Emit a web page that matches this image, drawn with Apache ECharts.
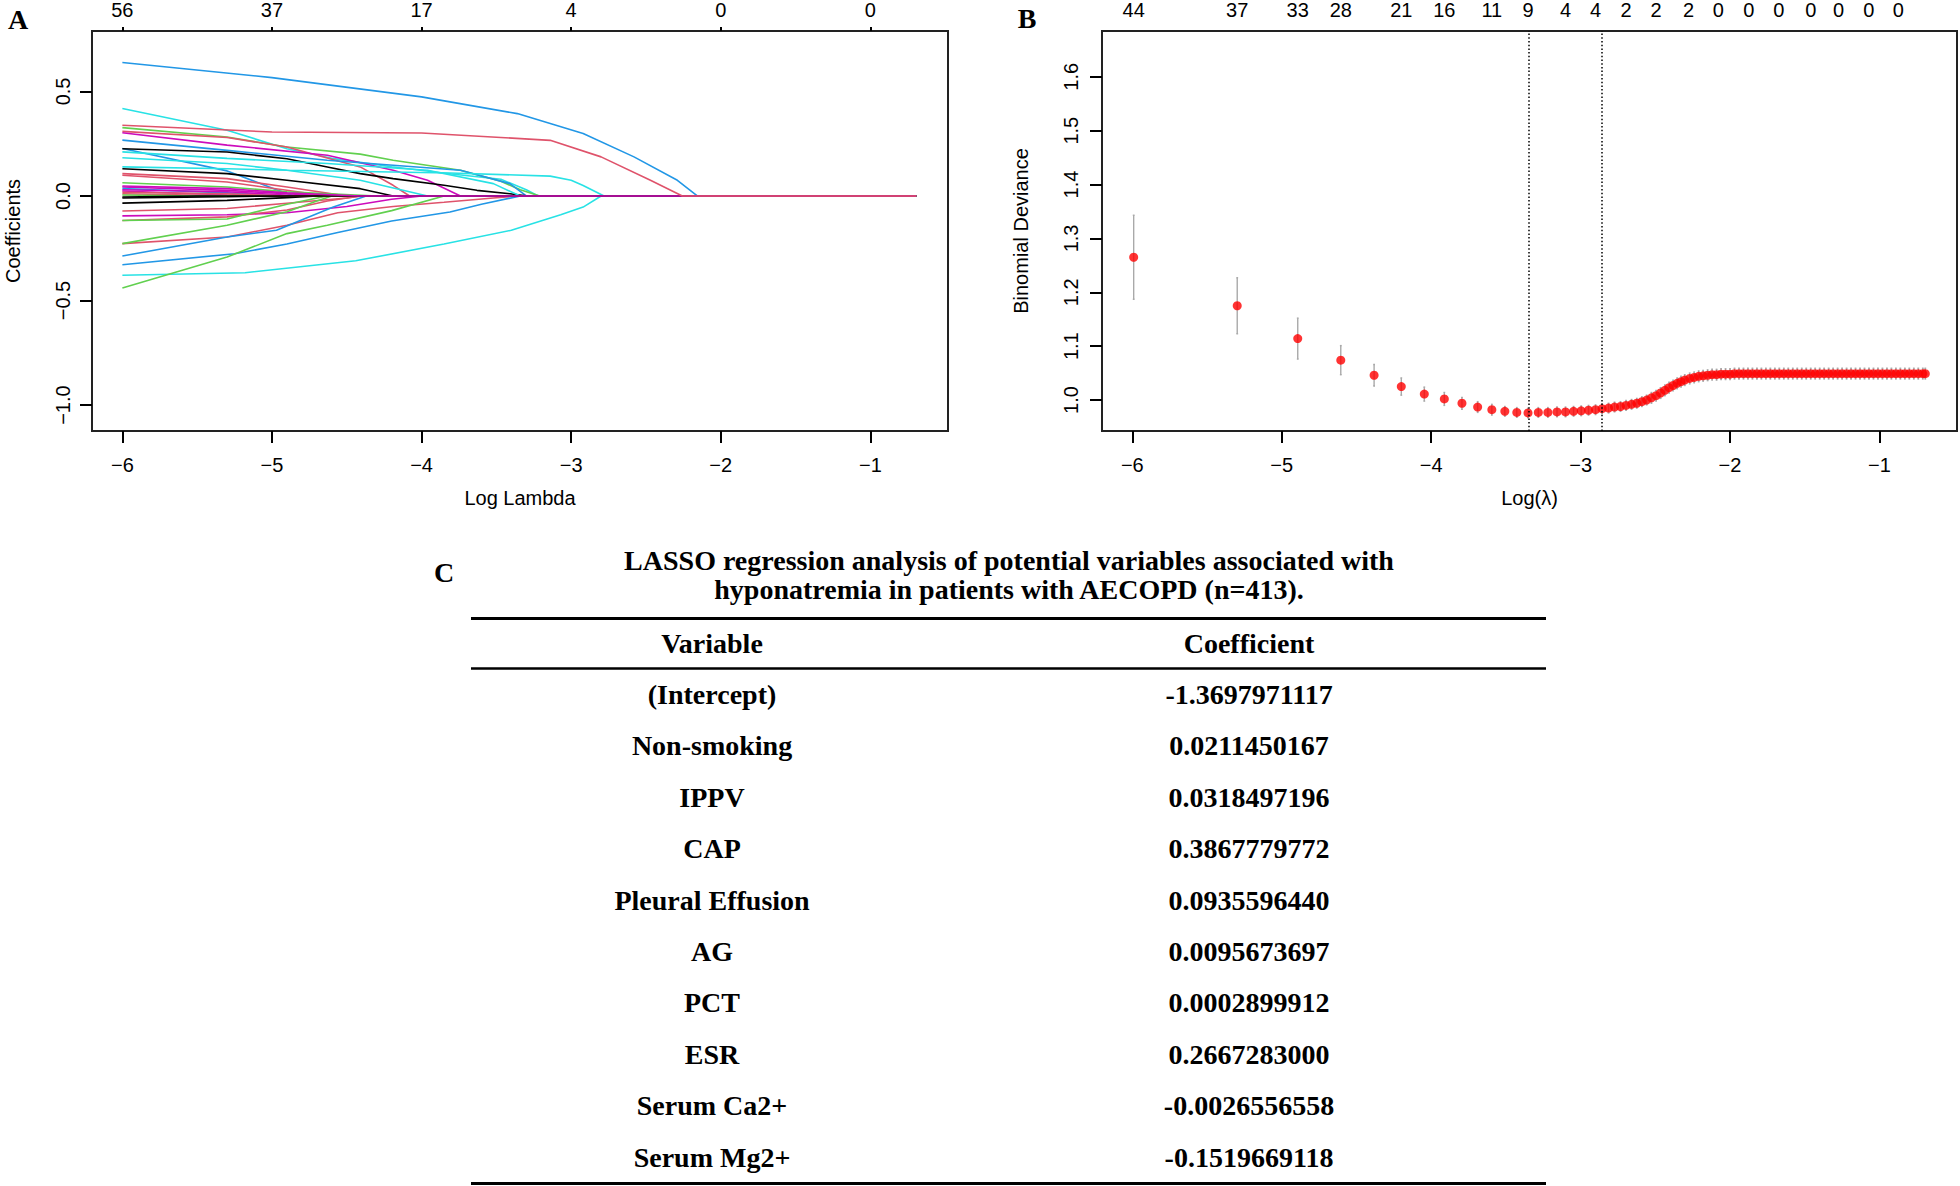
<!DOCTYPE html>
<html><head><meta charset="utf-8">
<script src="https://cdn.jsdelivr.net/npm/echarts@6.0.0/dist/echarts.min.js"></script>
<style>html,body{margin:0;padding:0;background:#fff;} #chart{width:1960px;height:1186px;}</style>
</head><body><div id="chart"></div>
<script>
// ---------------- Panel A: coefficient paths ----------------
const xTicks = [-6, -5, -4, -3, -2, -1];
const topTicksA = [-6, -5, -4, -3, -2, -1];
const topLabelsA = ['56', '37', '17', '4', '0', '0'];
const yTicksA = [-1, -0.5, 0, 0.5];
const lambdaEnd = -0.693;
const K = '#000000', R = '#DF536B', G = '#61D04F', B = '#2297E6', C = '#28E2E5', M = '#CD0BBC';
const pathColors = [B, C, G, R, M, B, B, K, C, C, C, K, R, R, G, M, B, M, R, M, G, K, K, R, M, R, G, R, G, B, B, C, G, R, K, M, R];
const coefPaths = [
  [[-6,0.638],[-5,0.566],[-4,0.474],[-3.81,0.45],[-3.36,0.394],[-2.92,0.299],[-2.58,0.187],[-2.29,0.075],[-2.157,0]],
  [[-6,0.418],[-5.3,0.314],[-4.9,0.226],[-4.6,0.18],[-4.2,0.14],[-3.8,0.105],[-3.47,0.08],[-3.3,0.03],[-3.22,0]],
  [[-6,0.327],[-5.3,0.282],[-4.9,0.234],[-4.41,0.2],[-4.19,0.171],[-3.74,0.123],[-3.47,0.07],[-3.34,0.03],[-3.21,0]],
  [[-6,0.309],[-5.3,0.28],[-4.9,0.234],[-4.41,0.139],[-4.19,0.051],[-4.08,0]],
  [[-6,0.302],[-5.3,0.243],[-4.63,0.195],[-4.19,0.123],[-3.96,0.075],[-3.74,0]],
  [[-6,0.267],[-5.3,0.218],[-4.63,0.171],[-4.19,0.147],[-3.74,0.123],[-3.41,0.059],[-3.3,0]],
  [[-6,0.227],[-5.3,0.12],[-4.97,0.03],[-4.85,0]],
  [[-6,0.226],[-5.3,0.21],[-4.9,0.178],[-4.63,0.139],[-4.41,0.107],[-4.19,0.083],[-3.85,0.051],[-3.63,0.027],[-3.41,0.011],[-3.29,0]],
  [[-6,0.211],[-5.3,0.18],[-4.63,0.155],[-3.96,0.123],[-3.52,0.059],[-3.34,0]],
  [[-6,0.183],[-5.3,0.155],[-4.9,0.123],[-4.41,0.075],[-3.96,0]],
  [[-6,0.139],[-5.3,0.13],[-4.9,0.123],[-4.2,0.115],[-3.81,0.11],[-3.14,0.095],[-3.0,0.075],[-2.92,0.05],[-2.78,0]],
  [[-6,0.13],[-5.3,0.107],[-4.9,0.075],[-4.41,0.035],[-4.19,0]],
  [[-6,0.107],[-5.3,0.083],[-4.9,0.043],[-4.5,0]],
  [[-6,0.099],[-5.3,0.067],[-4.9,0.027],[-4.63,0]],
  [[-6,0.063],[-5.3,0.043],[-4.9,0.02],[-4.3,0]],
  [[-6,0.043],[-5.3,0.027],[-4.63,0]],
  [[-6,0.035],[-5.3,0.015],[-4.9,0]],
  [[-6,0.024],[-5.3,0.005],[-5.0,0]],
  [[-6,0.011],[-5.2,0]],
  [[-6,0.03],[-5.3,0.02],[-4.8,0]],
  [[-6,0.005],[-5.5,0]],
  [[-6,-0.01],[-5.3,-0.004],[-5.0,0]],
  [[-6,-0.034],[-5.3,-0.021],[-4.9,-0.008],[-4.7,0]],
  [[-6,-0.072],[-5.3,-0.06],[-4.9,-0.035],[-4.5,-0.01],[-4.4,0]],
  [[-6,-0.095],[-5.3,-0.09],[-4.9,-0.08],[-4.5,-0.05],[-4.2,-0.016],[-4.0,0]],
  [[-6,-0.117],[-5.3,-0.1],[-4.9,-0.067],[-4.63,-0.024],[-4.41,0]],
  [[-6,-0.117],[-5.3,-0.11],[-4.9,-0.04],[-4.63,0]],
  [[-6,-0.228],[-5.3,-0.196],[-4.9,-0.14],[-4.56,-0.08],[-4.19,-0.05],[-3.85,-0.03],[-3.52,-0.01],[-3.36,0]],
  [[-6,-0.228],[-5.3,-0.14],[-4.9,-0.075],[-4.7,-0.024],[-4.6,0]],
  [[-6,-0.287],[-5.3,-0.196],[-4.97,-0.164],[-4.59,-0.053],[-4.37,0]],
  [[-6,-0.329],[-5.25,-0.276],[-4.9,-0.23],[-4.56,-0.175],[-4.2,-0.12],[-3.81,-0.077],[-3.6,-0.04],[-3.34,0]],
  [[-6,-0.379],[-5.18,-0.367],[-4.44,-0.31],[-3.85,-0.23],[-3.4,-0.164],[-3.07,-0.09],[-2.92,-0.053],[-2.8,0]],
  [[-6,-0.44],[-5.3,-0.292],[-4.9,-0.18],[-4.63,-0.14],[-4.2,-0.07],[-3.85,0]],
  [[-6,0.018],[-5.3,0.01],[-4.9,0]],
  [[-6,-0.005],[-5.5,0]],
  [[-6,0.048],[-5.3,0.035],[-4.9,0.015],[-4.41,0]],
  [[-6,0.338],[-5,0.306],[-4,0.301],[-3.47,0.28],[-3.14,0.266],[-2.8,0.187],[-2.47,0.075],[-2.257,0]]
];

// ---------------- Panel B: cross-validation curve ----------------
const cvLogLambda = [-5.991,-5.298,-4.893,-4.605,-4.382,-4.200,-4.046,-3.912,-3.794,-3.689,-3.594,-3.507,-3.427,-3.352,-3.283,-3.219,-3.158,-3.101,-3.047,-2.996,-2.947,-2.900,-2.856,-2.813,-2.773,-2.733,-2.696,-2.659,-2.624,-2.590,-2.558,-2.526,-2.495,-2.465,-2.436,-2.408,-2.381,-2.354,-2.328,-2.303,
  -2.27,-2.24,-2.21,-2.18,-2.15,-2.12,-2.09,-2.06,-2.03,-2.00,-1.97,-1.94,-1.91,-1.88,-1.85,-1.82,-1.79,-1.76,-1.73,-1.70,-1.67,-1.64,-1.61,-1.58,-1.55,-1.52,-1.49,-1.46,-1.43,-1.40,-1.37,-1.34,-1.31,-1.28,-1.25,-1.22,-1.19,-1.16,-1.13,-1.10,-1.07,-1.04,-1.01,-0.98,-0.95,-0.92,-0.89,-0.86,-0.83,-0.80,-0.77,-0.74,-0.71,-0.693];
const cvDeviance = [1.265,1.175,1.114,1.074,1.046,1.025,1.011,1.002,0.994,0.987,0.982,0.979,0.977,0.976,0.977,0.977,0.978,0.978,0.979,0.980,0.981,0.982,0.984,0.985,0.987,0.988,0.990,0.992,0.994,0.997,1.000,1.004,1.008,1.013,1.018,1.023,1.027,1.031,1.034,1.037,
  1.040,1.042,1.044,1.045,1.046,1.047,1.047,1.048,1.048,1.048,1.049,1.049,1.049,1.049,1.049,1.049,1.049,1.049,1.049,1.049,1.049,1.049,1.049,1.049,1.049,1.049,1.049,1.049,1.049,1.049,1.049,1.049,1.049,1.049,1.049,1.049,1.049,1.049,1.049,1.049,1.049,1.049,1.049,1.049,1.049,1.049,1.049,1.049,1.049,1.049,1.049,1.049,1.049,1.049];
const cvSE = [0.078,0.052,0.038,0.027,0.020,0.016,0.013,0.012,0.011,0.010,0.010,0.009,0.009,0.009,0.009,0.009,0.009,0.009,0.009,0.009,0.009,0.009,0.009,0.009,0.009,0.009,0.009,0.009,0.009,0.009,0.009,0.010,0.010,0.010,0.010,0.010,0.010,0.010,0.010,0.010,
  0.010,0.010,0.010,0.010,0.010,0.010,0.010,0.010,0.010,0.010,0.010,0.010,0.010,0.010,0.010,0.010,0.010,0.010,0.010,0.010,0.010,0.010,0.010,0.010,0.010,0.010,0.010,0.010,0.010,0.010,0.010,0.010,0.010,0.010,0.010,0.010,0.010,0.010,0.010,0.010,0.010,0.010,0.010,0.010,0.010,0.010,0.010,0.010,0.010,0.010,0.010,0.010,0.010,0.010];
const lambdaMinLog = -3.352;
const lambda1seLog = -2.856;
const topPosB = [-5.991,-5.298,-4.893,-4.605,-4.200,-3.912,-3.594,-3.352,-3.101,-2.900,-2.696,-2.495,-2.278,-2.079,-1.874,-1.674,-1.459,-1.273,-1.072,-0.874];
const topLabelsB = ['44','37','33','28','21','16','11','9','4','4','2','2','2','0','0','0','0','0','0','0'];
const yTicksB = [1.0, 1.1, 1.2, 1.3, 1.4, 1.5, 1.6];

// ---------------- Panel C: table ----------------
const tableTitle = ['LASSO regression analysis of potential variables associated with', 'hyponatremia in patients with AECOPD (n=413).'];
const tableHeader = ['Variable', 'Coefficient'];
const tableVariables = ['(Intercept)', 'Non-smoking', 'IPPV', 'CAP', 'Pleural Effusion', 'AG', 'PCT', 'ESR', 'Serum Ca2+', 'Serum Mg2+'];
const tableCoefficients = ['-1.3697971117', '0.0211450167', '0.0318497196', '0.3867779772', '0.0935596440', '0.0095673697', '0.0002899912', '0.2667283000', '-0.0026556558', '-0.1519669118'];

// ---------------- build chart ----------------
const SANS = '"Liberation Sans", Arial, sans-serif';
const SERIF = '"Liberation Serif", "Times New Roman", serif';
const minus = s => s.replace('-', '\u2212');
const axisText = {fontSize: 20, color: '#000', fontFamily: SANS};
function nearestLabel(pos, labels, v) {
  let bi = 0, bd = Infinity;
  pos.forEach((p, i) => { const d = Math.abs(p - v); if (d < bd) { bd = d; bi = i; } });
  return labels[bi];
}
const XMIN = -6.203, XMAX = -0.481;

function bottomX(grid, name) {
  return {
    gridIndex: grid, type: 'value', position: 'bottom', min: XMIN, max: XMAX,
    axisLine: {show: false, onZero: false}, splitLine: {show: false},
    axisTick: {show: true, length: 12, customValues: xTicks, lineStyle: {color: '#000', width: 2}},
    axisLabel: Object.assign({customValues: xTicks, margin: 24, formatter: v => minus(String(Math.round(v)))}, axisText),
    name: name, nameLocation: 'middle', nameGap: 57, nameTextStyle: axisText
  };
}

const series = [];
coefPaths.forEach((p, i) => {
  series.push({
    type: 'line', xAxisIndex: 0, yAxisIndex: 0, data: p.concat([[lambdaEnd, 0]]),
    showSymbol: false, symbol: 'none', silent: true, animation: false,
    lineStyle: {color: pathColors[i], width: 1.6}
  });
});
const errData = cvLogLambda.map((x, i) => [x, cvDeviance[i] - cvSE[i], cvDeviance[i] + cvSE[i]]);
series.push({
  type: 'custom', xAxisIndex: 2, yAxisIndex: 1, data: errData, silent: true, animation: false,
  renderItem: function (params, api) {
    const x = api.value(0), lo = api.value(1), hi = api.value(2);
    const a = api.coord([x, lo]), b = api.coord([x, hi]);
    const cl = api.coord([x - 0.006, hi]), cr = api.coord([x + 0.006, hi]);
    const dl = api.coord([x - 0.006, lo]), dr = api.coord([x + 0.006, lo]);
    const st = {stroke: '#A9A9A9', lineWidth: 1.4};
    return {type: 'group', children: [
      {type: 'line', shape: {x1: a[0], y1: a[1], x2: b[0], y2: b[1]}, style: st},
      {type: 'line', shape: {x1: cl[0], y1: cl[1], x2: cr[0], y2: cr[1]}, style: st},
      {type: 'line', shape: {x1: dl[0], y1: dl[1], x2: dr[0], y2: dr[1]}, style: st}
    ]};
  }
});
series.push({
  type: 'scatter', xAxisIndex: 2, yAxisIndex: 1, silent: true, animation: false,
  data: cvLogLambda.map((x, i) => [x, cvDeviance[i]]),
  symbol: 'circle', symbolSize: 9, itemStyle: {color: '#FF0000'},
  markLine: {
    silent: true, symbol: ['none', 'none'], label: {show: false}, animation: false,
    lineStyle: {color: '#000', width: 1.5, type: [1.5, 2.2]},
    data: [{xAxis: lambdaMinLog}, {xAxis: lambda1seLog}]
  }
});

// table graphics
const g = [];
const serifBold = size => 'bold ' + size + 'px ' + SERIF;
const txt = (x, y, text, size) => ({type: 'text', x: x, y: y, style: {text: text, font: serifBold(size), fill: '#000', align: 'center', verticalAlign: 'middle'}});
g.push(txt(18, 19, 'A', 28));
g.push(txt(1027, 18, 'B', 28));
g.push(txt(444, 572, 'C', 28));
g.push(txt(1009, 560, tableTitle[0], 28));
g.push(txt(1009, 589, tableTitle[1], 28));
const ruleL = 471, ruleR = 1546;
g.push({type: 'line', shape: {x1: ruleL, y1: 618.5, x2: ruleR, y2: 618.5}, style: {stroke: '#000', lineWidth: 3}});
g.push({type: 'line', shape: {x1: ruleL, y1: 668.5, x2: ruleR, y2: 668.5}, style: {stroke: '#000', lineWidth: 2.5}});
g.push({type: 'line', shape: {x1: ruleL, y1: 1183.5, x2: ruleR, y2: 1183.5}, style: {stroke: '#000', lineWidth: 3}});
const col1 = 712, col2 = 1249;
g.push(txt(col1, 643, tableHeader[0], 28));
g.push(txt(col2, 643, tableHeader[1], 28));
tableVariables.forEach((v, i) => {
  const y = 694.5 + i * 51.4;
  g.push(txt(col1, y, v, 28));
  g.push(txt(col2, y, tableCoefficients[i], 28));
});

const option = {
  backgroundColor: '#fff',
  animation: false,
  grid: [
    {left: 92, top: 31, width: 856, height: 400, show: true, borderColor: '#222', borderWidth: 2, backgroundColor: 'transparent', containLabel: false, outerBoundsMode: 'none'},
    {left: 1102, top: 31, width: 855, height: 400, show: true, borderColor: '#222', borderWidth: 2, backgroundColor: 'transparent', containLabel: false, outerBoundsMode: 'none'}
  ],
  xAxis: [
    bottomX(0, 'Log Lambda'),
    {
      gridIndex: 0, type: 'value', position: 'top', min: XMIN, max: XMAX,
      axisLine: {show: false, onZero: false}, splitLine: {show: false},
      axisTick: {show: true, length: 4, customValues: topTicksA, lineStyle: {color: '#000', width: 2}},
      axisLabel: Object.assign({customValues: topTicksA, margin: 11, formatter: v => nearestLabel(topTicksA, topLabelsA, v)}, axisText)
    },
    bottomX(1, 'Log(\u03bb)'),
    {
      gridIndex: 1, type: 'value', position: 'top', min: XMIN, max: XMAX,
      axisLine: {show: false, onZero: false}, splitLine: {show: false}, axisTick: {show: false},
      axisLabel: Object.assign({customValues: topPosB, margin: 11, formatter: v => nearestLabel(topPosB, topLabelsB, v)}, axisText)
    }
  ],
  yAxis: [
    {
      gridIndex: 0, type: 'value', min: -1.124, max: 0.789,
      axisLine: {show: false, onZero: false}, splitLine: {show: false},
      axisTick: {show: true, length: 12, customValues: yTicksA, lineStyle: {color: '#000', width: 2}},
      axisLabel: Object.assign({customValues: yTicksA, rotate: 90, margin: 19, formatter: v => minus(v.toFixed(1))}, axisText),
      name: 'Coefficients', nameLocation: 'middle', nameGap: 69, nameRotate: 90, nameTextStyle: axisText
    },
    {
      gridIndex: 1, type: 'value', min: 0.9425, max: 1.685,
      axisLine: {show: false, onZero: false}, splitLine: {show: false},
      axisTick: {show: true, length: 12, customValues: yTicksB, lineStyle: {color: '#000', width: 2}},
      axisLabel: Object.assign({customValues: yTicksB, rotate: 90, margin: 21, formatter: v => v.toFixed(1)}, axisText),
      name: 'Binomial Deviance', nameLocation: 'middle', nameGap: 71, nameRotate: 90, nameTextStyle: axisText
    }
  ],
  series: series,
  graphic: {elements: g}
};
const chart = echarts.init(document.getElementById('chart'), null, {renderer: 'svg'});
chart.setOption(option);
</script>
</body></html>
